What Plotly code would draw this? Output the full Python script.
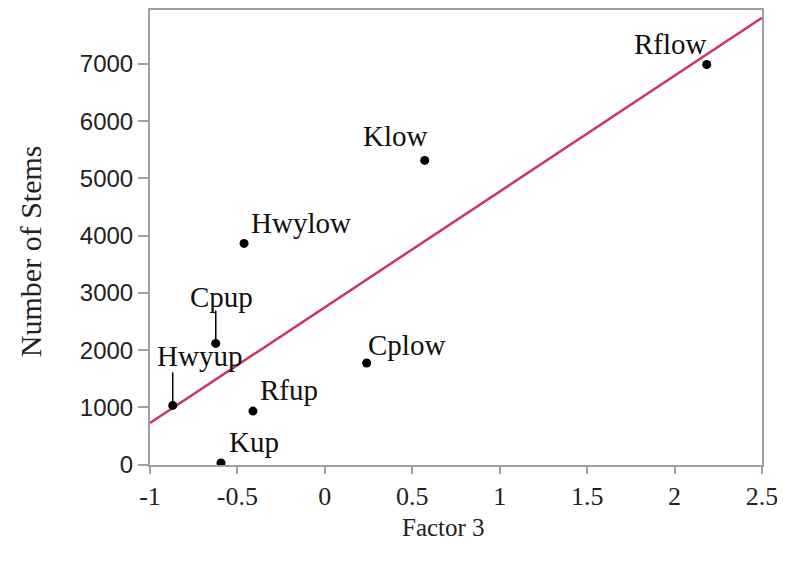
import numpy as np
import plotly.graph_objects as go

names = ["Rflow", "Klow", "Hwylow", "Cpup", "Cplow", "Hwyup", "Rfup", "Kup"]
factor3 = [2.184, 0.571, -0.462, -0.624, 0.239, -0.870, -0.411, -0.594]
stems = [6988, 5313, 3864, 2118, 1777, 1035, 936, 31]

x_ticks = [-1, -0.5, 0, 0.5, 1, 1.5, 2, 2.5]
x_ticktext = ["-1", "-0.5", "0", "0.5", "1", "1.5", "2", "2.5"]
y_ticks = [0, 1000, 2000, 3000, 4000, 5000, 6000, 7000]
y_ticktext = ["0", "1000", "2000", "3000", "4000", "5000", "6000", "7000"]

x_title = "Factor 3"
y_title = "Number of Stems"

# label offsets in pixels (styling)
label_shift = {
    "Rflow": (-36, 21), "Klow": (-29, 24), "Hwylow": (57, 20), "Cpup": (6, 46),
    "Cplow": (40, 18), "Hwyup": (27, 49), "Rfup": (36, 21), "Kup": (33, 21),
}
leaders = {"Cpup": (3, 33), "Hwyup": (3, 33)}

slope, intercept = np.polyfit(factor3, stems, 1)
xr = [-1, 2.5]
fit_x = np.array(xr)
fit_y = slope * fit_x + intercept

serif = "Liberation Serif, Times New Roman, serif"
sans = "Liberation Sans, Arial, sans-serif"

fig = go.Figure()
fig.add_trace(go.Scatter(x=fit_x, y=fit_y, mode="lines",
                         line=dict(color="#c8375c", width=2.5), hoverinfo="skip"))
fig.add_trace(go.Scatter(x=factor3, y=stems, mode="markers",
                         marker=dict(color="black", size=9)))

for n, xv, yv in zip(names, factor3, stems):
    dx, dy = label_shift[n]
    fig.add_annotation(x=xv, y=yv, text=n, showarrow=False, xshift=dx, yshift=dy,
                       font=dict(family=serif, size=29, color="#111111"))
    if n in leaders:
        a, b = leaders[n]
        fig.add_shape(type="line", xref="x", yref="y", xsizemode="pixel", ysizemode="pixel",
                      xanchor=xv, yanchor=yv, x0=0, x1=0, y0=a, y1=b,
                      line=dict(color="black", width=1.5))

# axis titles as annotations (positioned in paper coords)
fig.add_annotation(xref="paper", yref="paper", x=0.479, y=0, yshift=-62, text=x_title,
                   xanchor="center", yanchor="middle",
                   showarrow=False, font=dict(family=serif, size=25, color="#222222"))
fig.add_annotation(xref="paper", yref="paper", x=0, y=0.47, xshift=-120, text=y_title,
                   xanchor="center", yanchor="middle",
                   textangle=-90, showarrow=False, font=dict(family=serif, size=30, color="#222222"))

# page body has an 8px margin, so the figure is sized/margined to compensate
fig.update_layout(
    width=777, height=555,
    margin=dict(l=142, r=23, t=0, b=98),
    paper_bgcolor="white", plot_bgcolor="white",
    showlegend=False,
    xaxis=dict(range=xr, tickvals=x_ticks, ticktext=x_ticktext, showgrid=False, zeroline=False,
               showline=True, linecolor="#a0a0a0", linewidth=2, mirror=True,
               ticks="outside", ticklen=7, tickcolor="#a0a0a0", tickwidth=1.5,
               tickfont=dict(family=serif, size=26, color="#222222")),
    yaxis=dict(range=[-5, 7940], tickvals=y_ticks, ticktext=y_ticktext, showgrid=False, zeroline=False,
               showline=True, linecolor="#a0a0a0", linewidth=2, mirror=True,
               ticks="outside", ticklen=10, tickcolor="#a0a0a0", tickwidth=1.5,
               tickfont=dict(family=sans, size=24, color="#222222")),
)

fig.write_html("out.html")
